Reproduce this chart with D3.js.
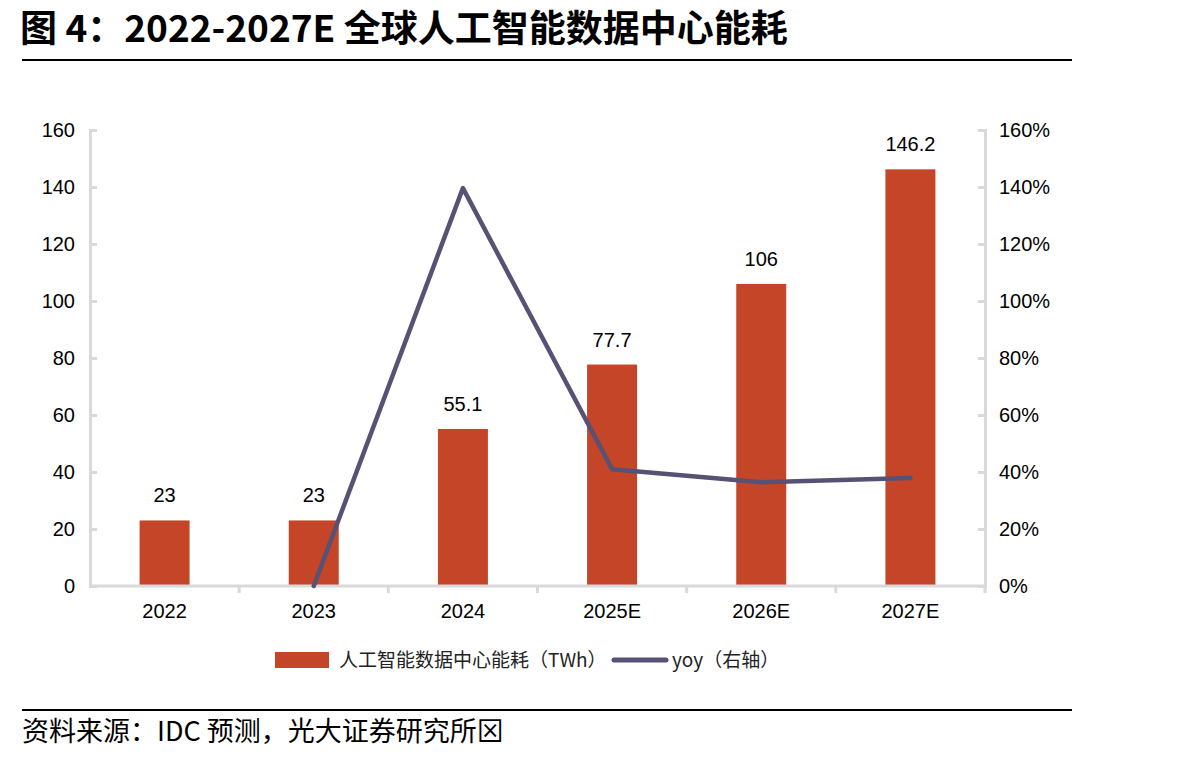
<!DOCTYPE html>
<html>
<head>
<meta charset="utf-8">
<script src="https://cdn.jsdelivr.net/npm/d3@7"></script>
<style>
  body { margin: 0; background: #fff; }
  text { font-family: "Liberation Sans", Arial, sans-serif; }
  .cjk { font-family: "Noto Sans CJK SC", sans-serif; }
</style>
</head>
<body>
<svg id="chart" width="1204" height="757"></svg>
<script>
// data
var years = ["2022", "2023", "2024", "2025E", "2026E", "2027E"];
var energy = [23, 23, 55.1, 77.7, 106, 146.2];          // TWh, left axis
var yoy = [null, 0, 139.6, 41.0, 36.4, 37.9];           // %, right axis
var leftTicks = [0, 20, 40, 60, 80, 100, 120, 140, 160];
var rightTicks = [0, 20, 40, 60, 80, 100, 120, 140, 160];

var svg = d3.select("#chart");
var margin = {left: 90, right: 219, top: 130, bottom: 171};
var W = 1204, H = 757;
var plotW = W - margin.left - margin.right;
var plotH = H - margin.top - margin.bottom;

var barColour = "#c44527", lineColour = "#575274", axisColour = "#d9d9d9";

// title + rules
svg.append("text").attr("class", "cjk")
  .attr("x", 20).attr("y", 42)
  .attr("font-size", 37).attr("font-weight", "bold")
  .text("图 4：2022-2027E 全球人工智能数据中心能耗");
svg.append("line").attr("x1", 22).attr("x2", 1072).attr("y1", 60).attr("y2", 60)
  .attr("stroke", "#000").attr("stroke-width", 2);
svg.append("line").attr("x1", 22).attr("x2", 1072).attr("y1", 710).attr("y2", 710)
  .attr("stroke", "#000").attr("stroke-width", 2);
svg.append("text").attr("class", "cjk")
  .attr("x", 22).attr("y", 741)
  .attr("font-size", 27)
  .text("资料来源：IDC 预测，光大证券研究所⊠");

var g = svg.append("g").attr("transform", "translate(" + margin.left + "," + margin.top + ")");

var x = d3.scaleBand().domain(years).range([0, plotW]);
var yL = d3.scaleLinear().domain([0, 160]).range([plotH, 0]);
var yR = d3.scaleLinear().domain([0, 160]).range([plotH, 0]);

// bars
var barW = 50;
g.selectAll(".bar").data(years).enter().append("rect")
  .attr("class", "bar")
  .attr("x", function(d){ return x(d) + x.bandwidth()/2 - barW/2; })
  .attr("width", barW)
  .attr("y", function(d, i){ return yL(energy[i]); })
  .attr("height", function(d, i){ return plotH - yL(energy[i]); })
  .attr("fill", barColour);

g.selectAll(".val").data(years).enter().append("text")
  .attr("x", function(d){ return x(d) + x.bandwidth()/2; })
  .attr("y", function(d, i){ return yL(energy[i]) - 18; })
  .attr("text-anchor", "middle").attr("font-size", 20)
  .text(function(d, i){ return energy[i]; });

// axes
var left = g.append("g").call(d3.axisLeft(yL).tickValues(leftTicks).tickSize(-7).tickPadding(15));
var right = g.append("g").attr("transform", "translate(" + plotW + ",0)")
  .call(d3.axisRight(yR).tickValues(rightTicks).tickSize(-7).tickPadding(14).tickFormat(function(d){ return d + "%"; }));
var bottom = g.append("g").attr("transform", "translate(0," + plotH + ")")
  .call(d3.axisBottom(x).tickSize(0).tickPadding(18));

[left, right, bottom].forEach(function(a){
  a.selectAll("path.domain").attr("stroke", axisColour).attr("stroke-width", 3);
  a.selectAll(".tick line").attr("stroke", axisColour).attr("stroke-width", 3);
  a.selectAll(".tick text").attr("font-size", 20).attr("fill", "#000")
    .attr("font-family", "Liberation Sans, Arial, sans-serif");
});
bottom.select("path.domain").attr("d", "M0,0H" + plotW);

// category boundary ticks on x axis
g.append("g").selectAll("line").data(d3.range(1, years.length + 1)).enter().append("line")
  .attr("x1", function(i){ return x.step()*i; })
  .attr("x2", function(i){ return x.step()*i; })
  .attr("y1", plotH).attr("y2", plotH + 7)
  .attr("stroke", axisColour).attr("stroke-width", 3);

// yoy line
var pts = years.map(function(d, i){ return {c: d, v: yoy[i]}; }).filter(function(p){ return p.v !== null; });
g.append("path").datum(pts)
  .attr("fill", "none").attr("stroke", lineColour).attr("stroke-width", 4.5)
  .attr("stroke-linejoin", "round").attr("stroke-linecap", "round")
  .attr("d", d3.line().x(function(p){ return x(p.c) + x.bandwidth()/2; }).y(function(p){ return yR(p.v); }));

// legend
var leg = svg.append("g").attr("transform", "translate(275,660)");
leg.append("rect").attr("x", 0).attr("y", -8).attr("width", 54).attr("height", 16).attr("fill", barColour);
leg.append("text").attr("class", "cjk").attr("x", 64).attr("y", 7).attr("font-size", 19)
  .attr("fill", "#222").text("人工智能数据中心能耗（TWh）");
leg.append("line").attr("x1", 339).attr("x2", 391).attr("y1", 0).attr("y2", 0)
  .attr("stroke", lineColour).attr("stroke-width", 5).attr("stroke-linecap", "round");
leg.append("text").attr("class", "cjk").attr("x", 397).attr("y", 7).attr("font-size", 19)
  .attr("fill", "#222").text("yoy（右轴）");
</script>
</body>
</html>
